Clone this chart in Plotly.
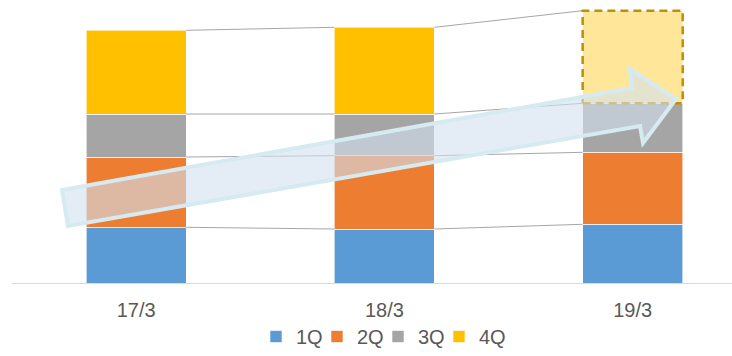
import plotly.graph_objects as go

# ---- data ----
categories = ["17/3", "18/3", "19/3"]
series_names = ["1Q", "2Q", "3Q", "4Q"]
q1 = [55.7, 54.0, 58.7]
q2 = [70.3, 73.3, 72.0]
q3 = [43.0, 41.7, 49.0]
q4 = [83.7, 86.7, 92.6]
series_values = [q1, q2, q3, q4]
series_colors = ["#5B9BD5", "#ED7D31", "#A5A5A5", "#FFC000"]
forecast_fill = "#FFE699"     # last 4Q bar (forecast)
forecast_edge = "#BF9000"

W, H = 732, 356
ML, MR = 12, 0
BASE_PX = 283                      # pixel row of the category axis
BAR_W = 0.403
XRANGE = [-0.5, 2.4]
YRANGE = [-(H - BASE_PX), BASE_PX]  # 1 unit per pixel, zero at the axis

x = list(range(len(categories)))
fig = go.Figure()

for k, (name, vals, col) in enumerate(zip(series_names, series_values, series_colors)):
    colors = [col] * len(vals)
    if name == "4Q":
        colors[-1] = forecast_fill
    fig.add_trace(go.Bar(
        x=x, y=vals, name=name, width=BAR_W,
        marker=dict(color=colors, line=dict(color="rgba(255,255,255,0.8)", width=0.75)),
        hoverinfo="skip",
    ))

# spacer legend entry so the last label is not clipped by the fixed entry width
fig.add_trace(go.Bar(x=[None], y=[None], name=" ", visible="legendonly",
                     marker=dict(color="rgba(0,0,0,0)", line=dict(width=0, color="rgba(0,0,0,0)")),
                     hoverinfo="skip"))

# connector lines between the tops of each stacked segment
cum = [0.0] * len(categories)
for vals in series_values:
    cum = [c + v for c, v in zip(cum, vals)]
    lx, ly = [], []
    for i in range(len(categories) - 1):
        lx += [x[i] + BAR_W / 2, x[i + 1] - BAR_W / 2, None]
        ly += [cum[i], cum[i + 1], None]
    fig.add_trace(go.Scatter(x=lx, y=ly, mode="lines", showlegend=False,
                             line=dict(color="#A6A6A6", width=1), hoverinfo="skip"))

# dashed outline of the forecast segment (derived from data)
last = len(categories) - 1
base_last = sum(s[last] for s in series_values[:3])
top_last = base_last + series_values[3][last]
fig.add_shape(type="rect", xref="x", yref="y",
              x0=x[last] - BAR_W / 2, x1=x[last] + BAR_W / 2, y0=base_last, y1=top_last,
              line=dict(color=forecast_edge, width=2.5, dash="8px,5px"),
              fillcolor="rgba(0,0,0,0)", layer="above")

# decorative block arrow (pixel positions converted to paper coords)
PW, PH = W - ML - MR, H
arrow_px = [(62, 190), (632, 88), (630, 69), (676, 99), (643, 143), (640, 126), (68, 226)]
def to_paper(p):
    return ((p[0] - ML) / PW, (PH - p[1]) / PH)
pts = [to_paper(p) for p in arrow_px]
path = "M " + " L ".join(f"{a:.5f},{b:.5f}" for a, b in pts) + " Z"
fig.add_shape(type="path", xref="paper", yref="paper", path=path,
              fillcolor="rgba(210,225,240,0.6)",
              line=dict(color="#D6EAF2", width=4), layer="above")

fig.update_layout(
    width=W, height=H,
    margin=dict(l=ML, r=MR, t=0, b=0),
    barmode="stack",
    paper_bgcolor="white", plot_bgcolor="white",
    font=dict(family="Liberation Sans, Arial, sans-serif", color="#595959", size=20),
    xaxis=dict(range=XRANGE, tickvals=x, ticktext=categories, showgrid=False,
               anchor="free", position=(H - BASE_PX) / H,
               zeroline=False, showline=True, linecolor="#D9D9D9", linewidth=1,
               ticks="", ticklabelstandoff=9, tickfont=dict(size=20, color="#595959")),
    yaxis=dict(range=YRANGE, domain=[0, 1], visible=False, showgrid=False, zeroline=False),
    showlegend=True,
    legend=dict(orientation="h", traceorder="normal", xref="paper", yref="paper",
                x=(256 - ML) / PW, xanchor="left", y=0, yanchor="bottom",
                entrywidth=16,
                font=dict(size=20, color="#595959"), bgcolor="rgba(0,0,0,0)"),
)

fig.write_html("out.html")
